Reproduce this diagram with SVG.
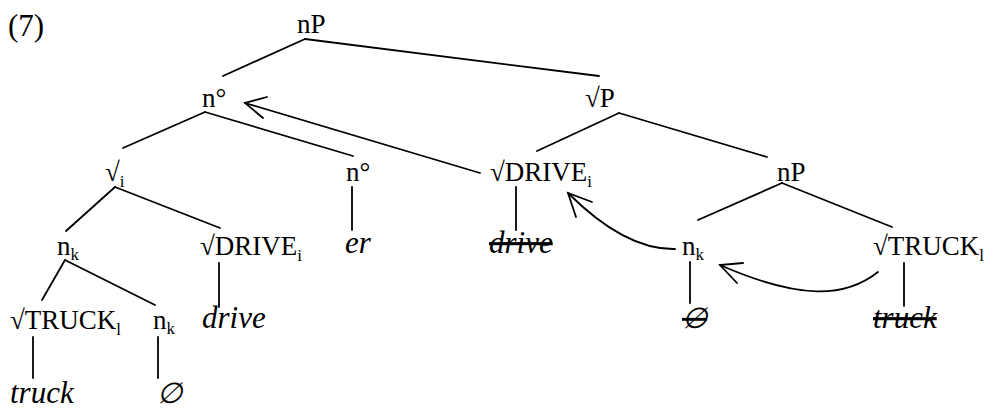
<svg xmlns="http://www.w3.org/2000/svg" width="984" height="409" viewBox="0 0 984 409">
<style>
text{font-family:"Liberation Serif","Times New Roman",serif;font-size:27px;fill:#000}
.it{font-style:italic;font-size:31px}
.sub{font-size:17px}
.st{text-decoration:line-through}
.es{font-family:"Liberation Serif","DejaVu Serif",serif;font-style:italic;font-size:29px}
#edges line,#edges path{stroke:#000;stroke-width:1.8;fill:none;stroke-linecap:round}
.arr{stroke:#000;stroke-width:2;fill:none}
</style>
<rect width="984" height="409" fill="#fff"/>
<text x="8" y="36" style="font-size:31px">(7)</text>
<g id="edges">
<line x1="305" y1="39" x2="223" y2="76"/>
<line x1="305" y1="39" x2="599" y2="76"/>
<line x1="205" y1="112" x2="123" y2="148"/>
<line x1="205" y1="112" x2="353" y2="156"/>
<line x1="619" y1="113" x2="537" y2="151"/>
<line x1="619" y1="113" x2="767" y2="157"/>
<line x1="115" y1="187" x2="66" y2="231"/>
<line x1="115" y1="187" x2="220" y2="228"/>
<line x1="352" y1="187" x2="352" y2="230"/>
<line x1="516" y1="187" x2="516" y2="230"/>
<line x1="782" y1="183" x2="698" y2="220"/>
<line x1="782" y1="183" x2="892" y2="227"/>
<line x1="65" y1="260" x2="42" y2="300"/>
<line x1="65" y1="260" x2="155" y2="305"/>
<line x1="219" y1="263" x2="219" y2="307"/>
<line x1="690" y1="262" x2="690" y2="303"/>
<line x1="904" y1="263" x2="904" y2="306"/>
<line x1="33" y1="337" x2="33" y2="378"/>
<line x1="158" y1="337" x2="158" y2="378"/>
<g id="move1"><line x1="480" y1="173" x2="245" y2="103"/><path class="arr" d="M267,97 L245,103 L263,118"/></g>
<g id="move2"><path d="M675,249 Q625,250 568,193"/><path class="arr" d="M592,202 L568,193 L576,217"/></g>
<g id="move3"><path d="M878,272 C845,298 800,300 720,265"/><path class="arr" d="M743,263 L720,265 L737,283"/></g>
</g>
<g id="n-nP-top"><text x="297" y="33">nP</text></g>
<g id="n-n0-top"><text x="202" y="107">n°</text></g>
<g id="n-rootP"><text x="585" y="107">√P</text></g>
<g id="n-root-i"><text x="105" y="181">√<tspan class="sub" dy="6">i</tspan></text></g>
<g id="n-n0-mid"><text x="346" y="181">n°</text></g>
<g id="n-drive-mid"><text x="490" y="181">√DRIVE<tspan class="sub" dy="6">i</tspan></text></g>
<g id="n-nP-right"><text x="777" y="181">nP</text></g>
<g id="n-nk-left"><text x="57" y="255">n<tspan class="sub" dy="5">k</tspan></text></g>
<g id="n-drive-left"><text x="200" y="255">√DRIVE<tspan class="sub" dy="6">i</tspan></text></g>
<g id="n-er"><text class="it" x="345" y="253">er</text></g>
<g id="n-drive-mid-leaf"><text class="it st" x="489" y="253">drive</text></g>
<g id="n-nk-right"><text x="682" y="255">n<tspan class="sub" dy="5">k</tspan></text></g>
<g id="n-truck-right"><text x="873" y="255">√TRUCK<tspan class="sub" dy="6">l</tspan></text></g>
<g id="n-truck-left"><text x="10" y="329">√TRUCK<tspan class="sub" dy="6">l</tspan></text></g>
<g id="n-nk-bottom"><text x="153" y="329">n<tspan class="sub" dy="5">k</tspan></text></g>
<g id="n-drive-left-leaf"><text class="it" x="202" y="328">drive</text></g>
<g id="n-empty-right"><text class="es st" x="682" y="328">∅</text></g>
<g id="n-truck-right-leaf"><text class="it st" x="873" y="328">truck</text></g>
<g id="n-truck-left-leaf"><text class="it" x="10" y="403">truck</text></g>
<g id="n-empty-left"><text class="es" x="157" y="403">∅</text></g>
</svg>
